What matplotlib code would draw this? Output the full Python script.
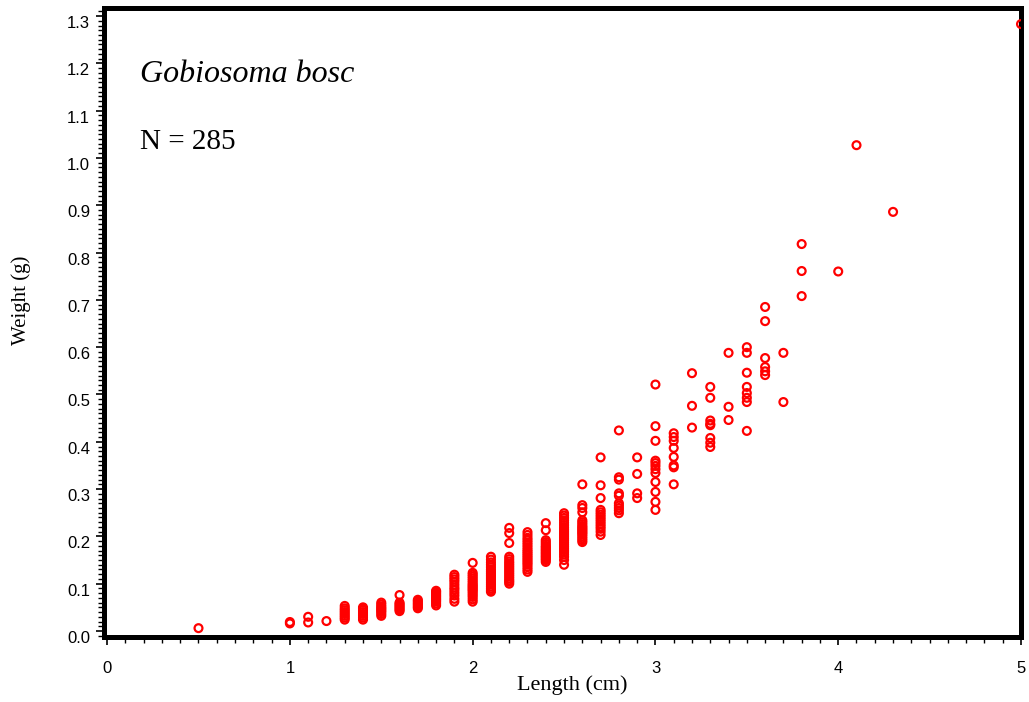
import matplotlib
matplotlib.use("Agg")
import matplotlib.pyplot as plt
import numpy as np
from matplotlib.ticker import MultipleLocator, FormatStrFormatter

# Length classes (cm) and the weights (g) observed at each length
lengths = [0.5, 1.0, 1.1, 1.2, 1.3, 1.4, 1.5, 1.6, 1.7, 1.8, 1.9, 2.0, 2.1, 2.2,
           2.3, 2.4, 2.5, 2.6, 2.7, 2.8, 2.9, 3.0, 3.1, 3.2, 3.3, 3.4, 3.5, 3.6,
           3.7, 3.8, 4.0, 4.1, 4.3, 5.0]

weights = [
    [0.006],
    [0.016, 0.019],
    [0.030, 0.018],
    [0.021],
    [0.024, 0.028, 0.032, 0.036, 0.040, 0.044, 0.048, 0.053],
    [0.024, 0.028, 0.032, 0.036, 0.040, 0.044, 0.047, 0.050],
    [0.032, 0.036, 0.040, 0.043, 0.046, 0.049, 0.052, 0.056, 0.060],
    [0.076, 0.042, 0.045, 0.048, 0.051, 0.054, 0.057, 0.060],
    [0.048, 0.051, 0.054, 0.057, 0.060, 0.063, 0.066],
    [0.054, 0.058, 0.062, 0.065, 0.068, 0.071, 0.074, 0.077, 0.080, 0.083, 0.085],
    [0.062, 0.068, 0.075, 0.081, 0.087, 0.092, 0.098, 0.104, 0.109, 0.114, 0.119],
    [0.144, 0.123, 0.119, 0.115, 0.111, 0.107, 0.103, 0.099, 0.096, 0.093, 0.090,
     0.087, 0.084, 0.080, 0.076, 0.072, 0.067, 0.062],
    [0.157, 0.151, 0.145, 0.140, 0.135, 0.130, 0.126, 0.122, 0.118, 0.114, 0.110,
     0.106, 0.102, 0.098, 0.094, 0.090, 0.086, 0.083],
    [0.218, 0.207, 0.186, 0.157, 0.152, 0.147, 0.143, 0.139, 0.135, 0.131, 0.127,
     0.123, 0.119, 0.115, 0.111, 0.107, 0.104, 0.100],
    [0.209, 0.203, 0.197, 0.192, 0.187, 0.182, 0.177, 0.172, 0.168, 0.164, 0.160,
     0.156, 0.152, 0.148, 0.144, 0.140, 0.135, 0.130, 0.125],
    [0.228, 0.213, 0.192, 0.188, 0.184, 0.180, 0.177, 0.174, 0.171, 0.168, 0.165,
     0.162, 0.159, 0.156, 0.153, 0.150, 0.146],
    [0.249, 0.244, 0.239, 0.234, 0.229, 0.224, 0.219, 0.215, 0.211, 0.207, 0.203,
     0.199, 0.195, 0.191, 0.187, 0.183, 0.179, 0.175, 0.171, 0.167, 0.162, 0.157,
     0.150, 0.140],
    [0.310, 0.266, 0.260, 0.251, 0.234, 0.230, 0.226, 0.222, 0.219, 0.216, 0.213,
     0.210, 0.207, 0.204, 0.200, 0.196, 0.192, 0.188],
    [0.367, 0.308, 0.281, 0.256, 0.251, 0.246, 0.241, 0.236, 0.231, 0.226, 0.221,
     0.216, 0.210, 0.203],
    [0.424, 0.325, 0.320, 0.291, 0.286, 0.270, 0.265, 0.260, 0.255, 0.249],
    [0.367, 0.332, 0.291, 0.281],
    [0.521, 0.433, 0.402, 0.360, 0.355, 0.349, 0.342, 0.334, 0.315, 0.294, 0.273, 0.256],
    [0.418, 0.410, 0.402, 0.387, 0.368, 0.350, 0.346, 0.310],
    [0.545, 0.476, 0.430],
    [0.516, 0.493, 0.445, 0.438, 0.435, 0.408, 0.398, 0.389],
    [0.588, 0.474, 0.446],
    [0.600, 0.588, 0.546, 0.516, 0.503, 0.493, 0.484, 0.423],
    [0.685, 0.655, 0.577, 0.558, 0.549, 0.541],
    [0.588, 0.484],
    [0.818, 0.761, 0.708],
    [0.760],
    [1.027],
    [0.886],
    [1.283],
]

x_ticks = [0, 1, 2, 3, 4, 5]
y_ticks = [0.0, 0.1, 0.2, 0.3, 0.4, 0.5, 0.6, 0.7, 0.8, 0.9, 1.0, 1.1, 1.2, 1.3]
species = "Gobiosoma bosc"
n_label = "N = 285"

x = np.repeat(lengths, [len(w) for w in weights])
y = np.concatenate([np.asarray(w) for w in weights])

W, H = 1029, 702
fig = plt.figure(figsize=(W / 100, H / 100), dpi=100)
ax = fig.add_axes([104 / W, 65 / H, 917 / W, 629 / H])

ax.scatter(x, y, s=32, facecolors="none", edgecolors="#ff0000",
           linewidths=1.6, zorder=3)

ax.set_xlim(-0.017, 5.0)
ax.set_ylim(-0.0127, 1.317)

for s in ax.spines.values():
    s.set_linewidth(3.6)
    s.set_color("black")

ax.set_xticks(x_ticks)
ax.set_yticks(y_ticks)
ax.xaxis.set_minor_locator(MultipleLocator(0.1))
ax.yaxis.set_minor_locator(MultipleLocator(0.01))
ax.yaxis.set_major_formatter(FormatStrFormatter("%.1f"))

ax.tick_params(axis="both", which="major", direction="out", length=6, width=1.2,
               labelsize=12, color="black")
ax.tick_params(axis="both", which="minor", direction="out", length=4, width=1.0,
               color="black")
ax.tick_params(axis="x", which="major", pad=11)
ax.tick_params(axis="y", which="major", pad=4)

for lab in ax.get_xticklabels() + ax.get_yticklabels():
    lab.set_family(["Liberation Sans", "DejaVu Sans"])
for lab in ax.get_yticklabels():
    lab.set_va("top")

fig.text(140 / W, (H - 82) / H, species, fontsize=23, style="italic",
         family=["Liberation Serif", "DejaVu Serif"], ha="left", va="baseline")
fig.text(140 / W, (H - 149) / H, n_label, fontsize=21,
         family=["Liberation Serif", "DejaVu Serif"], ha="left", va="baseline")

fig.text(572 / W, (H - 685) / H, "Length (cm)", fontsize=16,
         family=["Liberation Serif", "DejaVu Serif"], ha="center", va="center")
fig.text(21 / W, (H - 300) / H, "Weight (g)", fontsize=15, rotation=90,
         family=["Liberation Serif", "DejaVu Serif"], ha="center", va="center")

fig.savefig("out.png", dpi=100)
